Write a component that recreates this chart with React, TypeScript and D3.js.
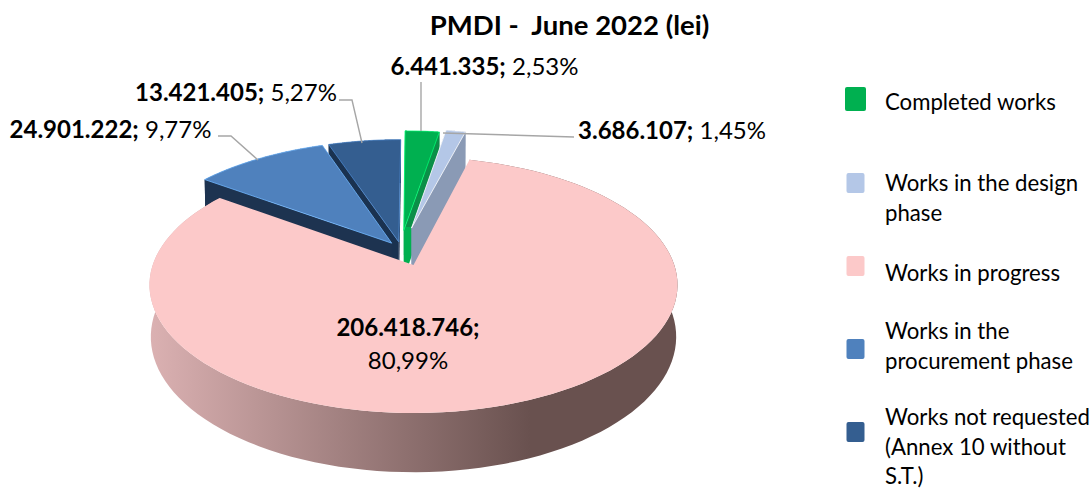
import React from "react";
import * as d3 from "d3";

const categories = ["Completed works", "Works in the design phase", "Works in progress", "Works in the procurement phase", "Works not requested (Annex 10 without S.T.)"];
const values = [6441335, 3686107, 206418746, 24901222, 13421405];
const valueLabels = ["6.441.335;", "3.686.107;", "206.418.746;", "24.901.222;", "13.421.405;"];
const percentLabels = ["2,53%", "1,45%", "80,99%", "9,77%", "5,27%"];
const legendLines = [["Completed works"], ["Works in the design", "phase"], ["Works in progress"], ["Works in the", "procurement phase"], ["Works not requested", "(Annex 10 without", "S.T.)"]];
const topColors = ["#00B050", "#B4C7E7", "#FCC9C9", "#4F81BD", "#345E90"];
const wallColors = ["url(#greenCut)", "#8A9AB5", "#8a6a6a", "#1D3350", "#1A3250"];
// how far each slice is pulled out of the pie, in disc units
const offsetsU = [-0.039, -0.008, 0, -0.086, -0.058];
const offsetsV = [-0.29, -0.31, 0, -0.18, -0.19];

const FONT = "Lato, Carlito, sans-serif";
const CX = 413.5, CY = 265, F = 260.8, G = 124.9, S = -0.156;
const Hz = 51, Kz = 0.005;

const project = (u: number, v: number, z: number): [number, number] => {
  const w = 1 + S * v + Kz * z;
  return [CX + (F * u) / w, CY + (G * v + Hz * z) / w];
};
const rim = (a: number, i: number, z: number) => project(Math.sin(a) + offsetsU[i], -Math.cos(a) + offsetsV[i], z);
const apex = (i: number, z: number) => project(offsetsU[i], offsetsV[i], z);
const line = d3.line<[number, number]>();
const sample = (a0: number, a1: number) => d3.range(0, 121).map((k) => a0 + ((a1 - a0) * k) / 120);

// the small slices are drawn first, the large slice lies over their cut faces
const arcs = d3.pie<number>().sort(null)(values);
const drawOrder = [4, 3, 0, 1];

const sliceTop = (i: number) => {
  const a = arcs[i];
  return line([apex(i, 0), ...sample(a.startAngle, a.endAngle).map((t) => rim(t, i, 0))])! + "Z";
};
const rimWall = (i: number) => {
  const a = arcs[i];
  const ts = sample(a.startAngle, a.endAngle);
  return line([...ts.map((t) => rim(t, i, 0)), ...ts.slice().reverse().map((t) => rim(t, i, 1))])! + "Z";
};
const cutFace = (i: number, t: number) => line([apex(i, 0), rim(t, i, 0), rim(t, i, 1), apex(i, 1)])! + "Z";

const leaders: [number, number][][] = [
  [[421, 82], [421, 131]],
  [[443, 133], [574, 137]],
  [[0, 0]],
  [[218, 136], [231, 136], [258, 160]],
  [[339, 100], [352, 100], [362, 143]],
];
const labelPos: [number, number][] = [
  [484.5, 75],
  [672, 139],
  [408, 0],
  [110.5, 138],
  [236, 101],
];
const legendY = [[110], [191, 221], [281], [339, 369], [425, 455, 484]];
const swatchY = [[87, 111], [173, 193], [256, 276], [339, 359], [422, 442]];

export default function App() {
  const p = arcs[2];
  const ts = sample(p.startAngle, p.endAngle);
  const pinkWall = line([...ts.map((t) => rim(t, 2, 0)), ...ts.slice().reverse().map((t) => rim(t, 2, 1))])! + "Z";
  return (
    <svg width={1091} height={488} viewBox="0 0 1091 488" style={{ position: "absolute", left: 0, top: 0, background: "#fff" }} fontFamily={FONT}>
      <defs>
        <linearGradient id="wall" gradientUnits="userSpaceOnUse" x1={150} x2={530} y1={0} y2={0}>
          <stop offset="0" stopColor="#DBB1B2" />
          <stop offset="1" stopColor="#69514F" />
        </linearGradient>
        <linearGradient id="greenCut" gradientUnits="userSpaceOnUse" x1={0} x2={0} y1={130} y2={265}>
          <stop offset="0.72" stopColor="#0B8F48" />
          <stop offset="0.72" stopColor="#00B050" />
        </linearGradient>
      </defs>
      <text x={569.5} y={35} textAnchor="middle" fontSize={27.5} fontWeight={700} xmlSpace="preserve">PMDI -  June 2022 (lei)</text>

      {drawOrder.map((i) => (
        <g key={i}>
          <path d={rimWall(i)} fill={i === 0 ? "#0B8F48" : wallColors[i]} />
          <path d={cutFace(i, arcs[i].startAngle)} fill={i === 0 ? topColors[0] : wallColors[i]} />
          <path d={cutFace(i, arcs[i].endAngle)} fill={wallColors[i]} />
          <path d={sliceTop(i)} fill={topColors[i]} stroke={d3.color(topColors[i])!.brighter(1).formatHex()} strokeWidth={0.8} strokeLinejoin="round" />
        </g>
      ))}

      <path d={pinkWall} fill="url(#wall)" />
      <path d={sliceTop(2)} fill={topColors[2]} />

      {leaders.map((pts, i) => pts.length > 1 && (
        <path key={i} d={line(pts)!} fill="none" stroke="#A6A6A6" strokeWidth={1.4} />
      ))}

      {labelPos.map(([x, y], i) => i === 2 ? (
        <g key={i} fontSize={24} textAnchor="middle">
          <text x={408} y={336} fontWeight={700}>{valueLabels[i]}</text>
          <text x={408} y={369}>{percentLabels[i]}</text>
        </g>
      ) : (
        <text key={i} x={x} y={y} fontSize={24} textAnchor="middle" xmlSpace="preserve">
          <tspan fontWeight={700}>{valueLabels[i]}</tspan> {percentLabels[i]}
        </text>
      ))}

      {categories.map((c, i) => (
        <g key={c}>
          <rect x={i === 0 ? 845 : 846.5} y={swatchY[i][0]} width={i === 0 ? 21 : 18} height={swatchY[i][1] - swatchY[i][0]} rx={2} fill={topColors[i]} />
          {legendLines[i].map((l, k) => (
            <text key={k} x={885} y={legendY[i][k]} fontSize={22.2}>{l}</text>
          ))}
        </g>
      ))}
    </svg>
  );
}
